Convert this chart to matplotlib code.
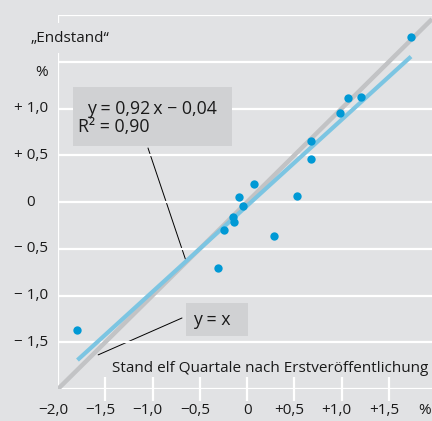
import matplotlib
matplotlib.use("Agg")
import matplotlib.pyplot as plt
import numpy as np
from matplotlib.patches import Rectangle

# ---- data ----
x_vals = [-1.794, -0.310, -0.246, -0.148, -0.134, -0.081, -0.039, 0.071,
          0.282, 0.529, 0.673, 0.673, 0.983, 1.071, 1.202, 1.734]
y_vals = [-1.365, -0.704, -0.299, -0.164, -0.213, 0.049, -0.043, 0.188,
          -0.363, 0.067, 0.459, 0.651, 0.956, 1.116, 1.127, 1.761]
slope = 0.92
intercept = -0.04
x_ticks = [-2.0, -1.5, -1.0, -0.5, 0.0, 0.5, 1.0, 1.5]
x_ticklabels = ["\u22122,0", "\u22121,5", "\u22121,0", "\u22120,5", "0", "+0,5", "+1,0", "+1,5"]
y_ticks = [1.0, 0.5, 0.0, -0.5, -1.0, -1.5]
y_ticklabels = ["+ 1,0", "+ 0,5", "0", "\u2212 0,5", "\u2212 1,0", "\u2212 1,5"]
grid_levels = [-2.0, -1.5, -1.0, -0.5, 0.0, 0.5, 1.0, 1.5, 2.0]

BG = "#e1e2e4"
BOX = "#d0d1d3"
GREY = "#c2c3c5"
LBLUE = "#7cc5e2"
DOT = "#0099d5"
TXT = "#1a1a1a"
FONT = "Open Sans"
FS = 11
FS_BOX = 12.8

plt.rcParams['font.family'] = [FONT, 'DejaVu Sans']

W, H = 432, 421
fig = plt.figure(figsize=(W / 100, H / 100), dpi=100, facecolor=BG)
ax_left, ax_right, ax_top, ax_bottom = 58, 432, 15, 389
ax = fig.add_axes([ax_left / W, 1 - ax_bottom / H, (ax_right - ax_left) / W, (ax_bottom - ax_top) / H])
ax.set_facecolor(BG)
ax.set_xlim(-2.0, 1.956)
ax.set_ylim(-2.0, 2.0)
for s in ax.spines.values():
    s.set_visible(False)

def px(xp, yp):
    """figure pixel (from top-left) -> axes fraction"""
    return ((xp - ax_left) / (ax_right - ax_left), (ax_bottom - yp) / (ax_bottom - ax_top))

# grid
for g in grid_levels:
    ax.axhline(g, color="white", lw=1.6, zorder=1)
ax.axvline(-2.0, color="white", lw=1.6, zorder=1)

# ticks
ax.set_xticks(x_ticks[1:])
ax.set_xticklabels([])
ax.set_yticks([])
ax.tick_params(axis='x', direction='inout', length=17, width=1.6, color='white')

# tick labels
for v, lab in zip(x_ticks, x_ticklabels):
    dx = 0 if lab == "0" else -5
    ax.annotate(lab, xy=(v, 0), xycoords=('data', 'axes fraction'), xytext=(dx, -21),
                textcoords='offset pixels', ha='center', va='center', fontsize=FS,
                color=TXT, annotation_clip=False)
fig.text(431 / W, 1 - 410 / H, "%", ha='right', va='center', fontsize=FS, color=TXT)
for v, lab in zip(y_ticks, y_ticklabels):
    if lab == "0":
        ax.annotate(lab, xy=(0, v), xycoords=('axes fraction', 'data'), xytext=(-27, 0),
                    textcoords='offset pixels', ha='center', va='center', fontsize=FS,
                    color=TXT, annotation_clip=False)
    else:
        ax.annotate(lab, xy=(0, v), xycoords=('axes fraction', 'data'), xytext=(-10, 0),
                    textcoords='offset pixels', ha='right', va='center', fontsize=FS,
                    color=TXT, annotation_clip=False)
fig.text(48 / W, 1 - 72 / H, "%", ha='right', va='center', fontsize=FS, color=TXT)
fig.text(31 / W, 1 - 38 / H, "\u201eEndstand\u201c", ha='left', va='center', fontsize=FS,
         color=TXT, zorder=5,
         bbox=dict(boxstyle='square,pad=0.5', fc=BG, ec='none'))

# lines
ax.axline((0, 0), slope=1, color=GREY, lw=3.2, zorder=2, solid_capstyle='butt')
xr = np.array([min(x_vals), max(x_vals)])
ax.plot(xr, slope * xr + intercept, color=LBLUE, lw=3.0, zorder=3, solid_capstyle='butt')
ax.scatter(x_vals, y_vals, s=36, color=DOT, zorder=4, linewidths=0)

# annotation box 1
x0, y0 = px(73, 146)
x1, y1 = px(232, 87)
ax.add_patch(Rectangle((x0, y0), x1 - x0, y1 - y0, transform=ax.transAxes,
                       fc=BOX, ec='none', zorder=2.5, clip_on=False))
tx, ty = px(87, 109)
ax.text(tx, ty, "y = 0,92\u2009x \u2212 0,04", transform=ax.transAxes, ha='left', va='center',
        fontsize=FS_BOX, color=TXT, zorder=5)
tx, ty = px(78, 127)
ax.text(tx, ty, "R\u00b2 = 0,90", transform=ax.transAxes, ha='left', va='center',
        fontsize=FS_BOX, color=TXT, zorder=5)
lx = -0.645
sx, sy = px(148, 148)
ax.annotate("", xy=(lx, slope * lx + intercept), xycoords='data',
            xytext=(sx, sy), textcoords='axes fraction',
            arrowprops=dict(arrowstyle='-', color='black', lw=0.7, shrinkA=0, shrinkB=0),
            zorder=0.5)

# annotation box 2
x0, y0 = px(186, 336)
x1, y1 = px(248, 303)
ax.add_patch(Rectangle((x0, y0), x1 - x0, y1 - y0, transform=ax.transAxes,
                       fc=BOX, ec='none', zorder=2.5, clip_on=False))
tx, ty = px(193, 320)
ax.text(tx, ty, "y = x", transform=ax.transAxes, ha='left', va='center',
        fontsize=FS_BOX, color=TXT, zorder=5)
lx2 = -1.575
sx, sy = px(182, 318)
ax.annotate("", xy=(lx2, lx2 - 0.06), xycoords='data',
            xytext=(sx, sy), textcoords='axes fraction',
            arrowprops=dict(arrowstyle='-', color='black', lw=0.7, shrinkA=0, shrinkB=0),
            zorder=0.5)

# axis title
tx, ty = px(428, 368)
ax.text(tx, ty, "Stand elf Quartale nach Erstver\u00f6ffentlichung", transform=ax.transAxes,
        ha='right', va='center', fontsize=FS, color=TXT, zorder=5)

fig.savefig("out.png", dpi=100, facecolor=BG)
